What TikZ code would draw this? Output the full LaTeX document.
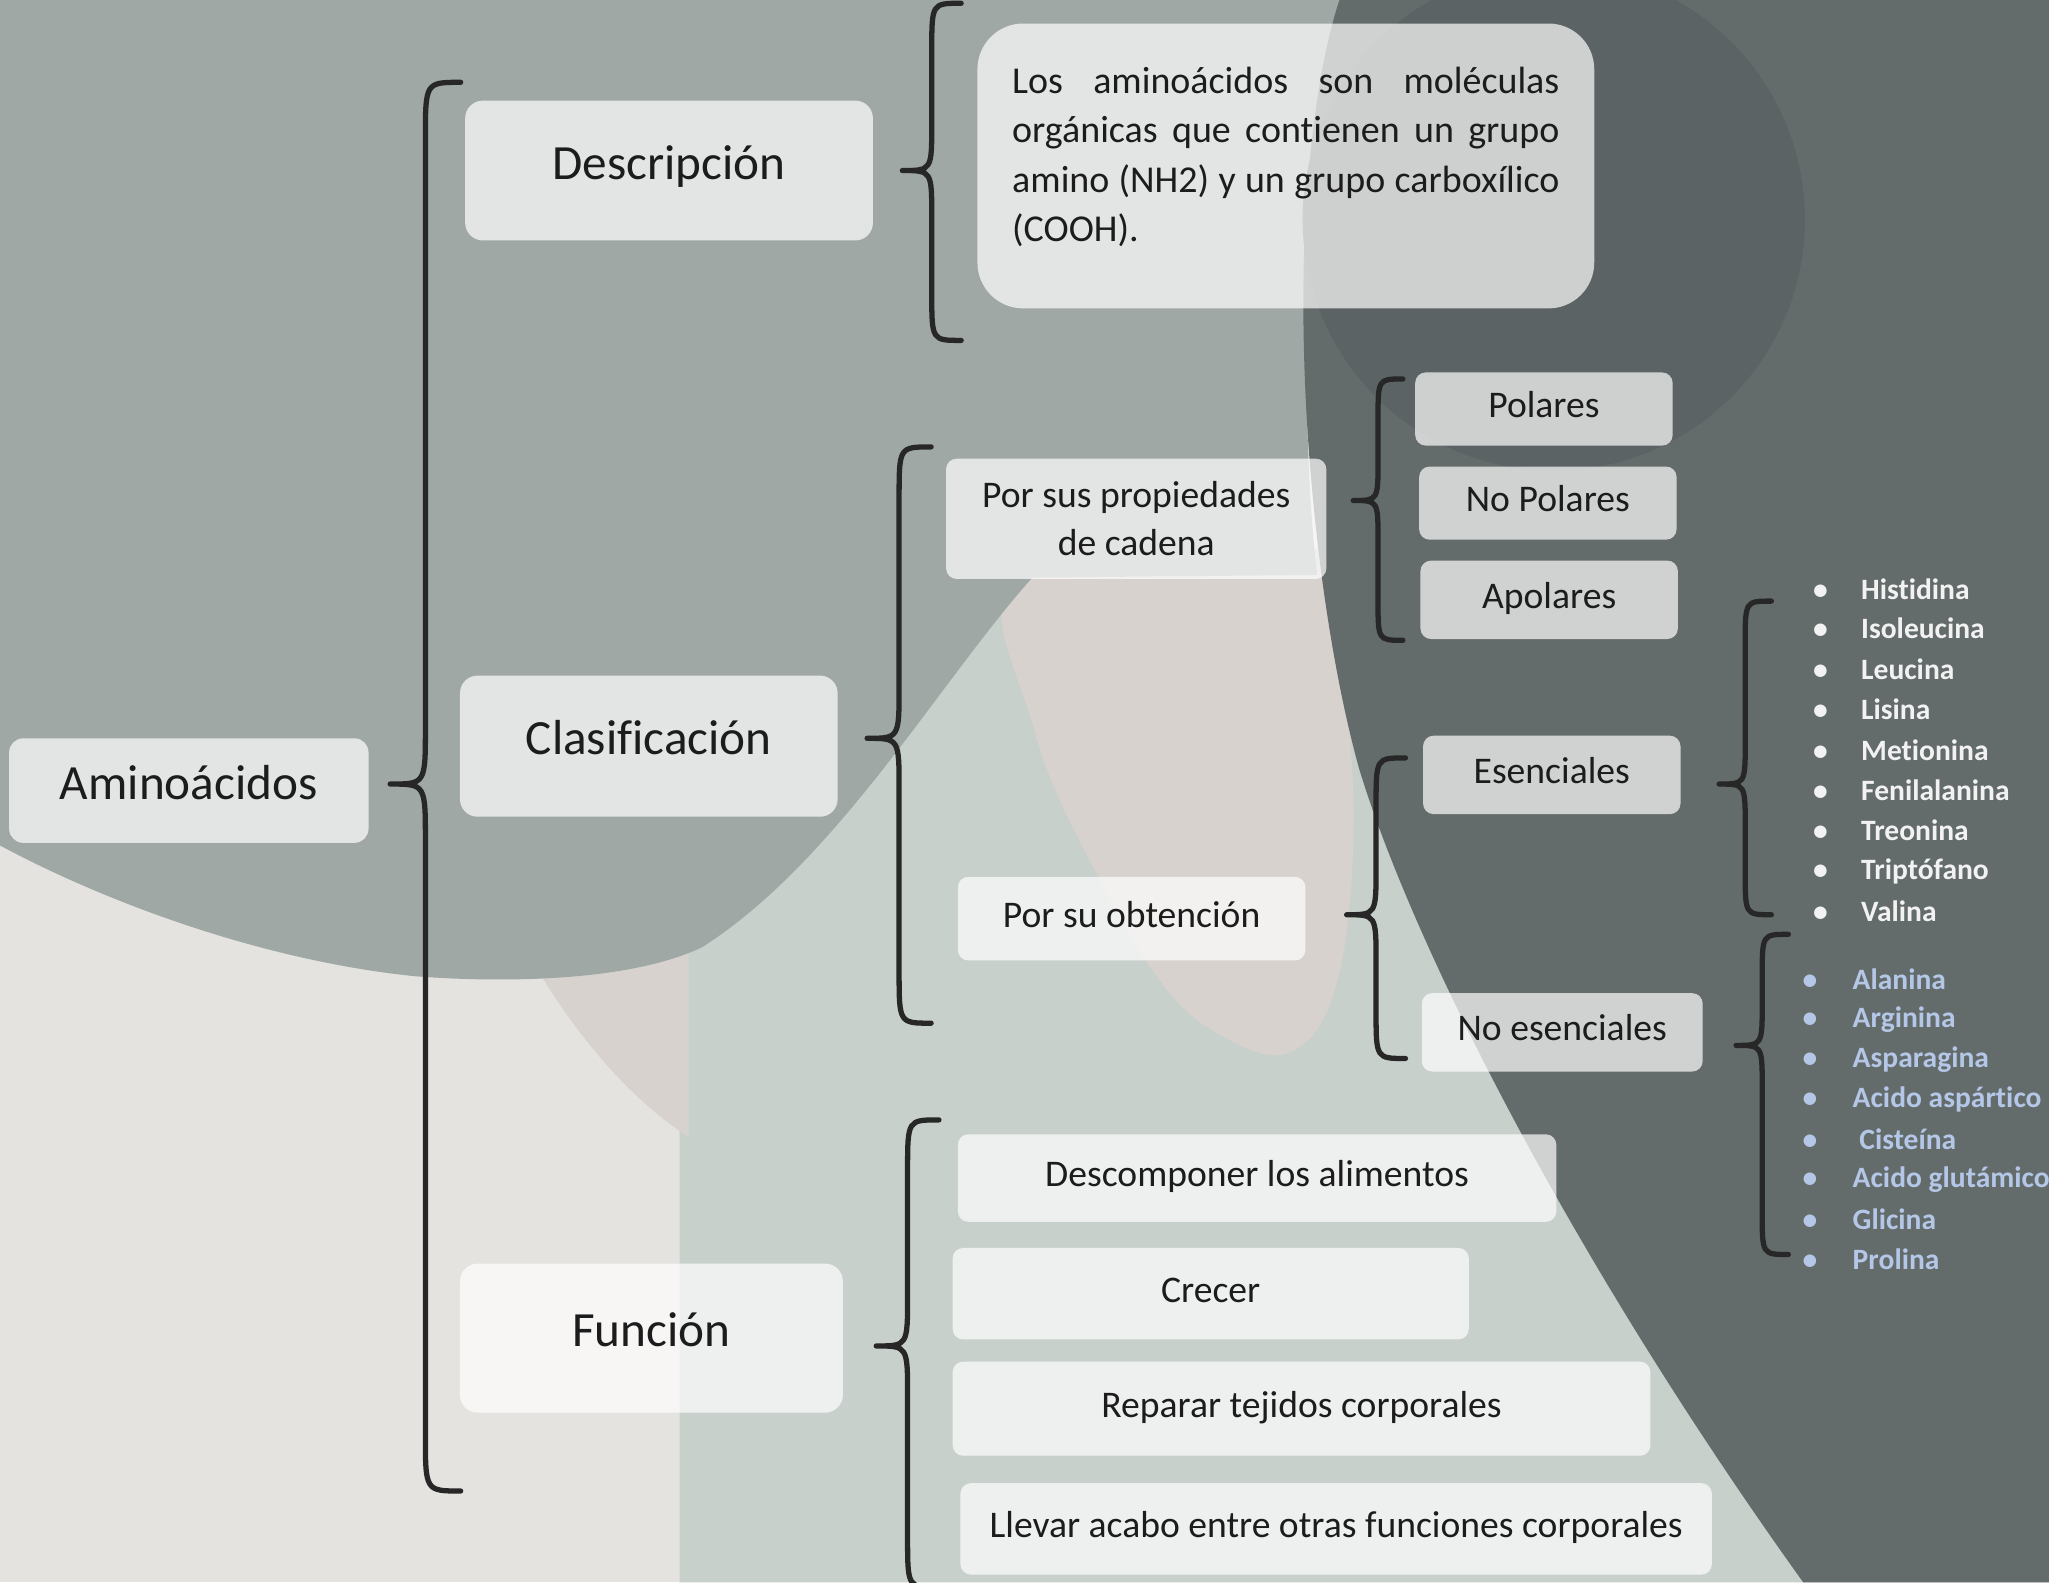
\documentclass[tikz,border=0pt]{standalone}
\usepackage{fontspec}
\setmainfont{Carlito}[Ligatures=NoCommon]
\usetikzlibrary{calc}

\definecolor{fondo}{HTML}{E5E3DF}
\definecolor{verdoso}{HTML}{C8D0CC}
\definecolor{rosado}{HTML}{D8D2CF}
\definecolor{grismedio}{HTML}{9FA8A5}
\definecolor{grisoscuro}{HTML}{646B6B}
\definecolor{circulo}{HTML}{5B6364}
\definecolor{celeste}{HTML}{B4C7E7}
\definecolor{tinta}{HTML}{1C1C1C}

\newcommand\px{0.013068cm}

\tikzset{
  caja/.style={fill=white, fill opacity=0.7, text opacity=1, inner sep=0pt, text=tinta, rounded corners=#1},
  caja/.default=4pt,
  boxsize/.style 2 args={minimum width=#1*\px, minimum height=#2*\px},
  titulo/.style={font=\fontsize{14}{16}\selectfont, text height=0.82em, text depth=0.33em},
  medio/.style={font=\fontsize{10.7}{13.7}\selectfont, align=center},
  linea/.style={text height=0.8em, text depth=0.32em},
  texto/.style={font=\fontsize{10.8}{14}\selectfont},
  llave/.style={draw=tinta!95!white, line width=1.5pt, line cap=round},
  lista/.style={anchor=west, inner sep=0pt, font=\fontsize{8.4}{10}\selectfont\bfseries}
}

\begin{document}
\begin{tikzpicture}[x=\px, y=-\px]
\def\curlypath[#1][#2][#3]{.. controls +(#1,0) and +(0,1.6*#1) .. ++(#1,-1.6*#1) -- ++(0,-#2+3.2*#1) .. controls +(0,-1.6*#1) and +(-#1,0) .. ++(#1,-1.6*#1) ++(-2*#1,#2) .. controls +(#1,0) and +(0,-1.6*#1) .. ++(#1,1.6*#1) -- ++(0,#3-3.2*#1) .. controls +(0,1.6*#1) and +(-#1,0) .. ++(#1,1.6*#1)}
\def\bala{\makebox[0.48cm][l]{•}}
\def\balb{\makebox[0.5cm][l]{•}}

\useasboundingbox (0,0) rectangle (1568,1211);

% fondo
\begin{scope}
\clip (0,0) rectangle (1568,1211);
\fill[fondo] (0,0) rectangle (1568,1211);
\fill[verdoso] (520,1211) -- (520,700) -- (700,420) -- (1568,420) -- (1568,1211) -- cycle;
\fill[rosado] plot[smooth cycle, tension=0.6] coordinates {(782,438) (1010,438) (1034,580) (1032,700) (1015,775) (985,806) (945,798) (895,760) (840,670) (792,560)};
\fill[rosado] (410,740) -- (527,718) -- (527,870) .. controls (480,840) and (440,790) .. (410,740);
\fill[grismedio] (0,0) -- (1025,0) .. controls (995,120) and (995,330) .. (1008,440) -- (790,442) .. controls (720,520) and (640,660) .. (537,725) .. controls (480,752) and (380,752) .. (317,747) .. controls (200,735) and (80,690) .. (0,647) -- cycle;
\fill[grisoscuro] (1025,0) -- (1568,0) -- (1568,1211) -- (1380,1211) .. controls (1200,960) and (1080,720) .. (1040,588) .. controls (1010,480) and (990,300) .. (1000,150) .. controls (1005,80) and (1015,30) .. (1025,0) -- cycle;
\fill[circulo] (1189,168) circle[radius=2.51cm];
\end{scope}

% primer nivel
\node[caja, boxsize={275}{80}, titulo] (amino) at (144.5,605) {Aminoácidos};

\node[caja=5pt, boxsize={312}{107}, titulo] (desc) at (512,130.5) {Descripción};
\node[caja=5pt, boxsize={289}{108}, titulo] (clas) at (496.5,571) {Clasificación};
\node[caja=5pt, boxsize={293}{114}, titulo] (func) at (498.5,1024) {Función};
\draw[llave] ($(amino.east)+(16,-5)$) \curlypath[27][537][541];

% descripcion
\node[caja=13pt, boxsize={472}{218}, texto, text width=5.47cm, align=justify] (defin) at (984,127) {Los aminoácidos son moléculas\linebreak orgánicas que contienen un grupo\linebreak amino (NH2) y un grupo carboxílico\linebreak (COOH).\par\vspace*{0.18cm}};
\draw[llave] ($(desc.east)+(22,0)$) \curlypath[22.5][128][130];

% clasificacion
\node[caja=3pt, boxsize={291}{92}, medio] (props) at (869.5,397) {Por sus propiedades\\de cadena};
\node[caja=3pt, boxsize={266}{64}, medio, linea] (obt) at (866,703) {Por su obtención};
\draw[llave] ($(clas.east)+(22,-6)$) \curlypath[24.5][223][218];

\node[caja=3pt, boxsize={197}{56}, medio, linea] (polar) at (1181.5,313) {Polares};
\node[caja=3pt, boxsize={197}{56}, medio, linea] (nopolar) at (1184.5,385) {No Polares};
\node[caja=3pt, boxsize={197}{60}, medio, linea] (apolar) at (1185.5,459) {Apolares};
\draw[llave] ($(props.east)+(20,-14)$) \curlypath[19][93][107];

\node[caja=3pt, boxsize={197}{60}, medio, linea] (esen) at (1187.5,593) {Esenciales};
\node[caja=3pt, boxsize={215}{60}, medio, linea] (noesen) at (1195.5,790) {No esenciales};
\draw[llave] ($(obt.east)+(31,-3)$) \curlypath[22.5][120][110];

% esenciales
\node[lista, text=white!95!black] (histidina) at (1387,451) {\bala Histidina};
\node[lista, text=white!95!black] (isoleucina) at (1387,481) {\bala Isoleucina};
\node[lista, text=white!95!black] (leucina) at (1387,512) {\bala Leucina};
\node[lista, text=white!95!black] (lisina) at (1387,543) {\bala Lisina};
\node[lista, text=white!95!black] (metionina) at (1387,574) {\bala Metionina};
\node[lista, text=white!95!black] (fenilalanina) at (1387,605) {\bala Fenilalanina};
\node[lista, text=white!95!black] (treonina) at (1387,635) {\bala Treonina};
\node[lista, text=white!95!black] (triptofano) at (1387,667) {\bala Triptófano};
\node[lista, text=white!95!black] (valina) at (1387,697) {\bala Valina};
\draw[llave] ($(esen.east)+(29,7)$) \curlypath[20][140][100];

% no esenciales
\node[lista, text=celeste] (alanina) at (1379,749) {\balb Alanina};
\node[lista, text=celeste] (arginina) at (1379,780) {\balb Arginina};
\node[lista, text=celeste] (asparagina) at (1379,811) {\balb Asparagina};
\node[lista, text=celeste] (aspartico) at (1379,841) {\balb Acido aspártico};
\node[lista, text=celeste] (cisteina) at (1379,872) {\balb\ Cisteína};
\node[lista, text=celeste] (glutamico) at (1379,903) {\balb Acido glutámico};
\node[lista, text=celeste] (glicina) at (1379,933) {\balb Glicina};
\node[lista, text=celeste] (prolina) at (1379,964) {\balb Prolina};
\draw[llave] ($(noesen.east)+(25,10)$) \curlypath[20][85][160];

% funcion
\node[caja=3pt, boxsize={458}{67}, medio, linea] (descomp) at (962,901.5) {Descomponer los alimentos};
\node[caja=3pt, boxsize={395}{70}, medio, linea] (crecer) at (926.5,990) {Crecer};
\node[caja=3pt, boxsize={534}{72}, medio, linea] (reparar) at (996,1078) {Reparar tejidos corporales};
\node[caja=3pt, boxsize={575}{70}, medio, linea] (llevar) at (1022.5,1170) {Llevar acabo entre otras funciones corporales};
\draw[llave] ($(func.east)+(25,6)$) \curlypath[24][173][185];

\end{tikzpicture}
\end{document}
